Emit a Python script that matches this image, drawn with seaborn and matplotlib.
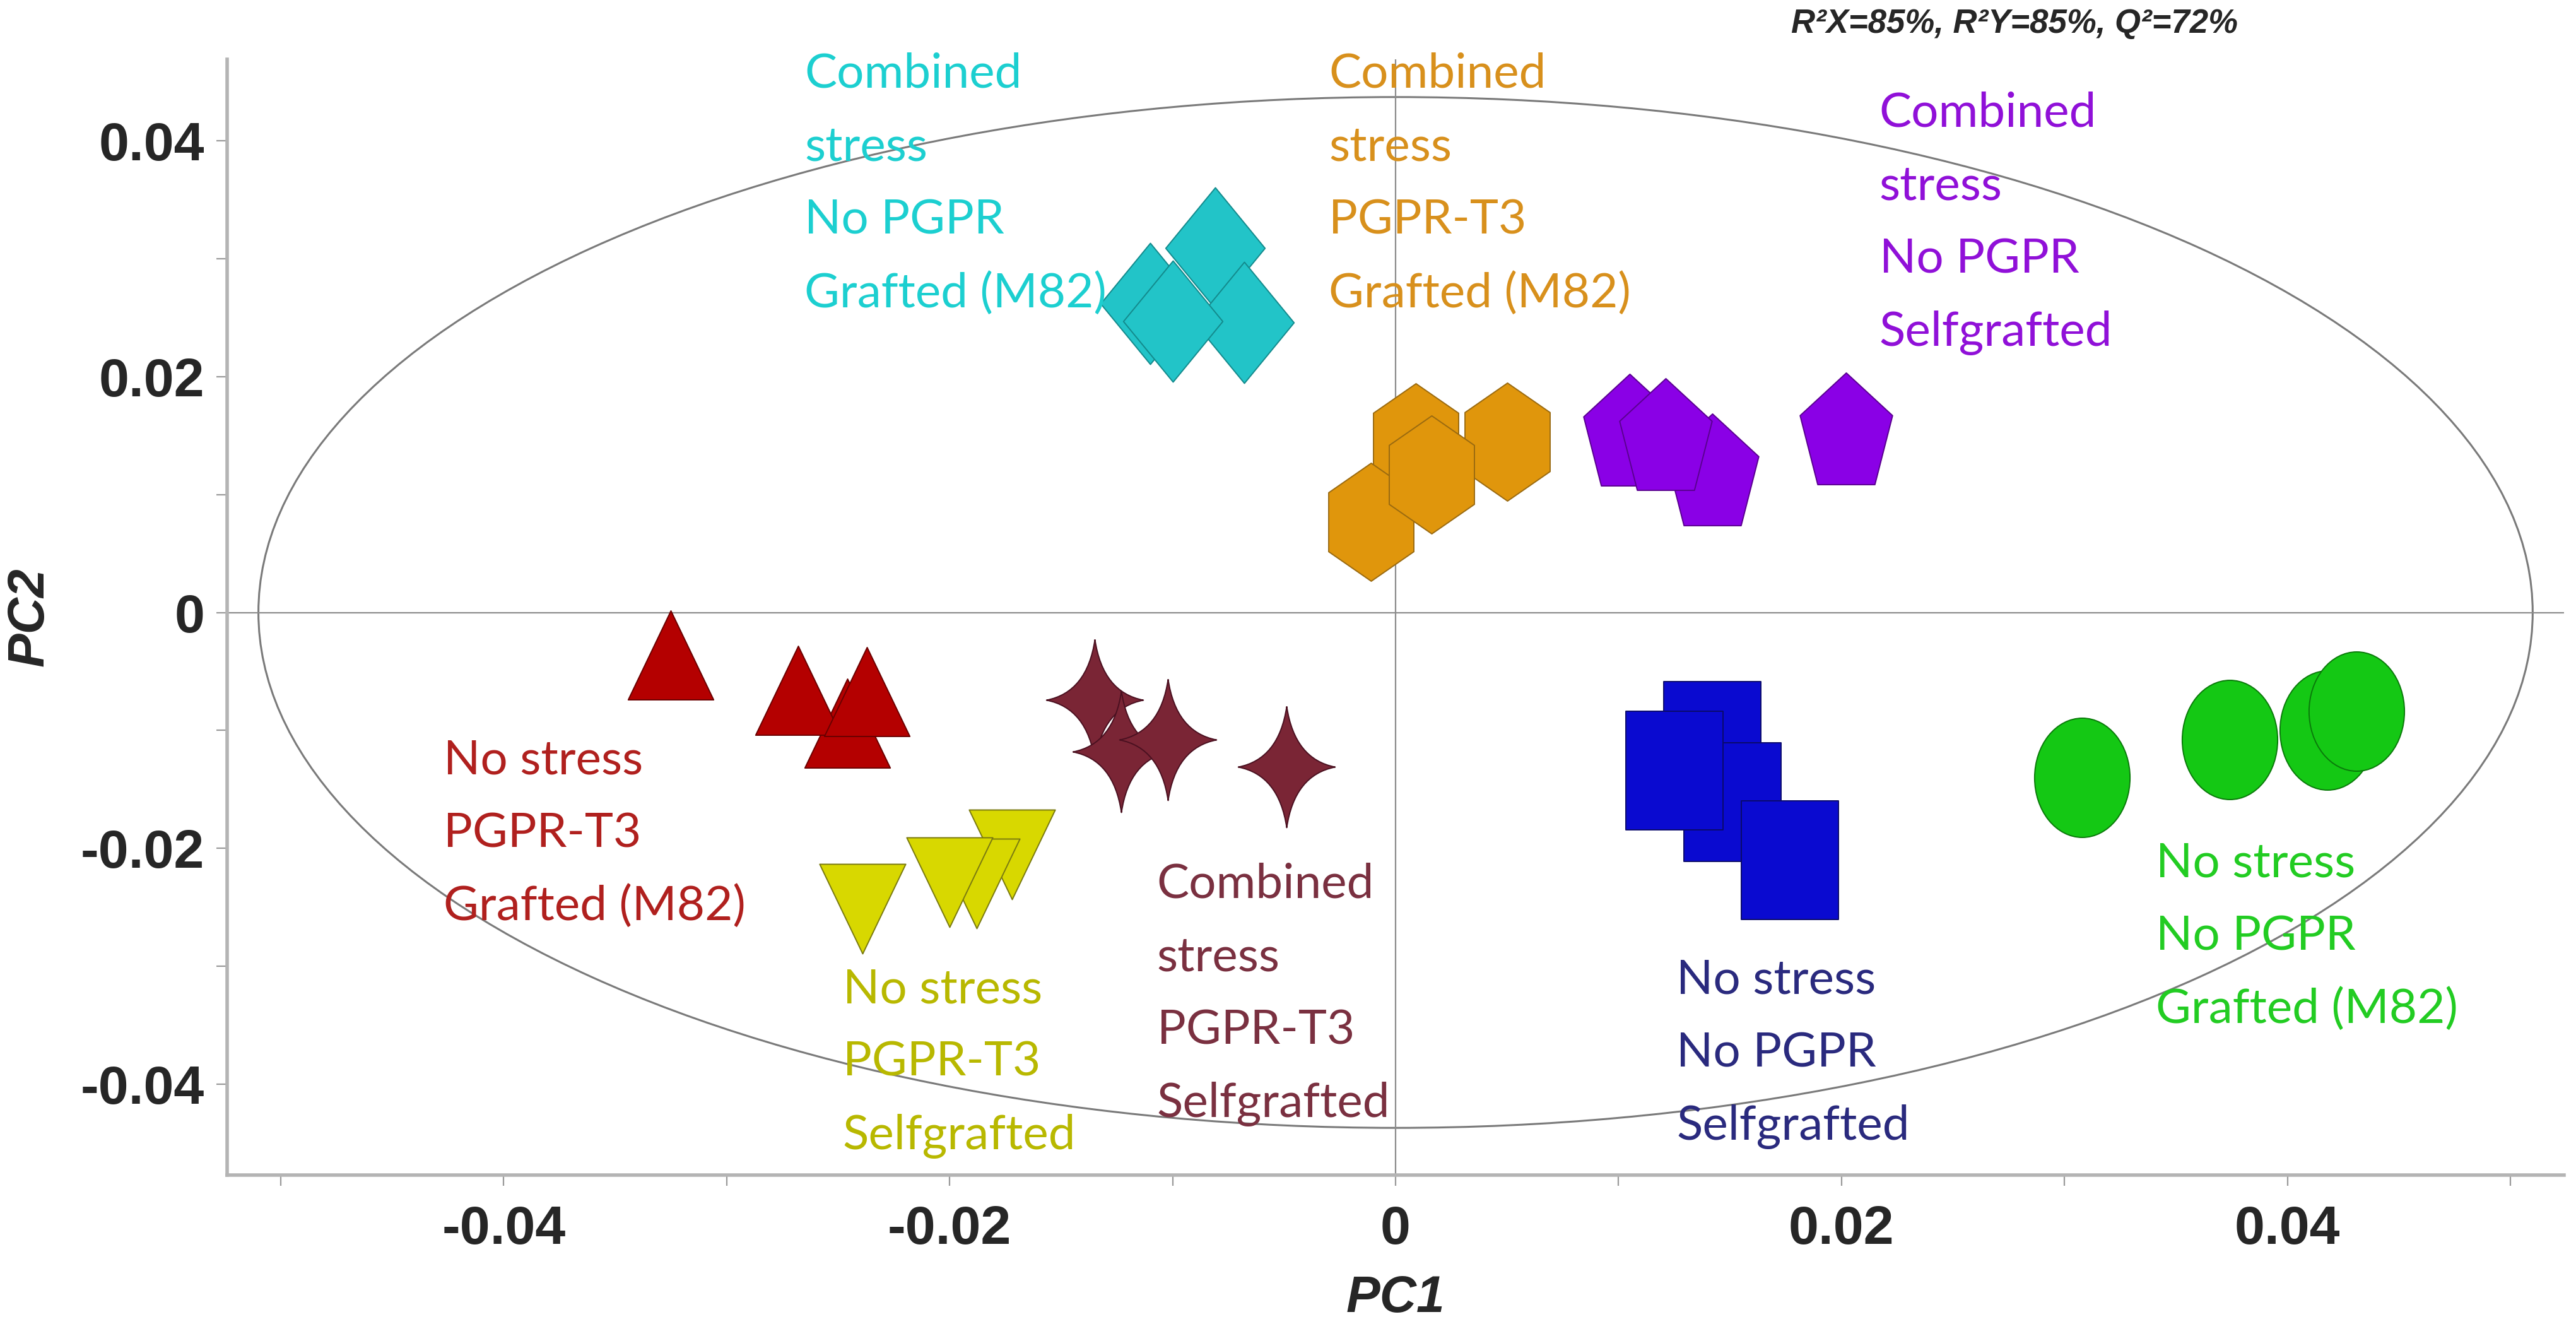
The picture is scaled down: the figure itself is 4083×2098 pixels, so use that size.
import numpy as np
import pandas as pd
import matplotlib
matplotlib.use("Agg")
import matplotlib.pyplot as plt
import seaborn as sns
from matplotlib.path import Path
from matplotlib.patches import Ellipse
from matplotlib.ticker import MultipleLocator, FuncFormatter

# scores (PC1, PC2), one list per group
cyan_x = [-0.0081, -0.0110, -0.0068, -0.0100]
cyan_y = [0.0309, 0.0262, 0.0246, 0.0247]
orange_x = [0.0009, 0.0050, -0.0011, 0.0016]
orange_y = [0.0144, 0.0145, 0.0077, 0.0117]
purple_x = [0.0142, 0.0105, 0.0121, 0.0202]
purple_y = [0.0121, 0.0155, 0.0151, 0.0156]
red_x = [-0.0246, -0.0325, -0.0268, -0.0237]
red_y = [-0.0094, -0.0036, -0.0066, -0.0067]
star_x = [-0.0135, -0.0123, -0.0102, -0.0049]
star_y = [-0.0074, -0.0118, -0.0108, -0.0131]
yellow_x = [-0.0172, -0.0188, -0.0200, -0.0239]
yellow_y = [-0.0205, -0.0230, -0.0229, -0.0251]
blue_x = [0.0142, 0.0151, 0.0125, 0.0177]
blue_y = [-0.0109, -0.0161, -0.0134, -0.0210]
green_x = [0.0308, 0.0374, 0.0418, 0.0431]
green_y = [-0.0140, -0.0108, -0.0100, -0.0084]

groups = ["cyan", "orange", "purple", "red", "star", "yellow", "blue", "green"]
labels = {
    "cyan": ["Combined", "stress", "No PGPR", "Grafted (M82)"],
    "orange": ["Combined", "stress", "PGPR-T3", "Grafted (M82)"],
    "purple": ["Combined", "stress", "No PGPR", "Selfgrafted"],
    "red": ["No stress", "PGPR-T3", "Grafted (M82)"],
    "star": ["Combined", "stress", "PGPR-T3", "Selfgrafted"],
    "yellow": ["No stress", "PGPR-T3", "Selfgrafted"],
    "blue": ["No stress", "No PGPR", "Selfgrafted"],
    "green": ["No stress", "No PGPR", "Grafted (M82)"],
}
model_stats = "R²X=85%, R²Y=85%, Q²=72%"

xs = {"cyan": cyan_x, "orange": orange_x, "purple": purple_x, "red": red_x,
      "star": star_x, "yellow": yellow_x, "blue": blue_x, "green": green_x}
ys = {"cyan": cyan_y, "orange": orange_y, "purple": purple_y, "red": red_y,
      "star": star_y, "yellow": yellow_y, "blue": blue_y, "green": green_y}

df = pd.concat([pd.DataFrame({"PC1": xs[g], "PC2": ys[g], "group": g}) for g in groups],
               ignore_index=True)

# --- styling ---
fill = {"cyan": "#22C4C8", "orange": "#E0960C", "purple": "#8A00E6", "red": "#B40000",
        "star": "#7A2535", "yellow": "#D8D800", "blue": "#0A0AD0", "green": "#14C814"}
edge = {"cyan": "#138A8C", "orange": "#9A6A10", "purple": "#5A0090", "red": "#6A0000",
        "star": "#4A1020", "yellow": "#7A7A10", "blue": "#0A0A6A", "green": "#0A7A0A"}
text_col = {"cyan": "#1CCFD0", "orange": "#D8901C", "purple": "#9010D8", "red": "#B0201E",
            "star": "#7A3040", "yellow": "#B8B800", "blue": "#2A2A7E", "green": "#22CC22"}
# label anchor: left edge, first baseline; line step in data units
label_pos = {"cyan": (-0.0265, 0.0445), "orange": (-0.0030, 0.0445),
             "purple": (0.0217, 0.0412), "red": (-0.0427, -0.0137),
             "yellow": (-0.0248, -0.0331), "star": (-0.0107, -0.0242),
             "blue": (0.0126, -0.0323), "green": (0.0341, -0.0224)}
line_step = 0.0062


def shape(verts):
    v = np.asarray(verts, float)
    v = v - (v.min(0) + v.max(0)) / 2
    codes = [Path.MOVETO] + [Path.LINETO] * (len(v) - 1) + [Path.CLOSEPOLY]
    return Path(np.vstack([v, v[:1]]), codes)


def stretched(n, ry):
    a = np.pi / 2 + np.arange(n) * 2 * np.pi / n
    return shape(np.c_[np.cos(a), ry * np.sin(a)])


circ = Path.unit_circle()
markers = {
    "cyan": shape([(0, 1), (0.82, 0), (0, -1), (-0.82, 0)]),
    "orange": stretched(6, 1.2),
    "purple": stretched(5, 1.27),
    "red": shape([(0, 1), (0.96, -1), (-0.96, -1)]),
    "yellow": shape([(0, -1), (0.96, 1), (-0.96, 1)]),
    "star": Path([(0, 1), (0.13, 0.13), (0.8, 0), (0.13, -0.13), (0, -1),
                  (-0.13, -0.13), (-0.8, 0), (-0.13, 0.13), (0, 1)],
                 [Path.MOVETO] + [Path.CURVE3] * 8),
    "blue": shape([(-0.41, -0.5), (0.41, -0.5), (0.41, 0.5), (-0.41, 0.5)]),
    "green": Path(circ.vertices * [1, 1.25], circ.codes),
}
height_px = {"cyan": 192, "orange": 187, "purple": 177, "red": 141, "star": 192,
             "yellow": 142, "blue": 188, "green": 189}

sns.set_theme(style="white")
plt.rcParams["font.family"] = ["Liberation Sans", "DejaVu Sans"]

fig = plt.figure(figsize=(40.83, 20.98), dpi=100)
ax = fig.add_axes([0.0882, 0.1125, 0.9071, 0.8427])

ax.add_patch(Ellipse((0, 0), 2 * 0.0510, 2 * 0.0437, fill=False, ec="#7a7a7a", lw=2.2, zorder=1))
ax.axhline(0, color="#8c8c8c", lw=1.6, zorder=1)
ax.axvline(0, color="#8c8c8c", lw=1.6, zorder=1)

for g in groups:
    sub = df[df["group"] == g]
    sns.scatterplot(data=sub, x="PC1", y="PC2", ax=ax, marker=markers[g],
                    s=(height_px[g] * 0.72) ** 2, color=fill[g], edgecolor=edge[g],
                    linewidth=1.4, zorder=3, legend=False)
    lx, ly = label_pos[g]
    for i, line in enumerate(labels[g]):
        ax.text(lx, ly - i * line_step, line, color=text_col[g], fontsize=55,
                family=["Lato", "DejaVu Sans"], ha="left", va="baseline",
                clip_on=False, zorder=4)

ax.set_xlim(-0.0524, 0.0524)
ax.set_ylim(-0.0477, 0.0469)
ax.xaxis.set_major_locator(MultipleLocator(0.01))
ax.yaxis.set_major_locator(MultipleLocator(0.01))


def fmt(v, pos):
    r = int(round(v * 100))
    if r % 2:
        return ""
    return "0" if r == 0 else f"{v:.2f}"


ax.xaxis.set_major_formatter(FuncFormatter(fmt))
ax.yaxis.set_major_formatter(FuncFormatter(fmt))
ax.tick_params(axis="both", which="major", direction="out", length=12, width=1.6,
               color="#9a9a9a", labelsize=62, bottom=True, left=True)
ax.tick_params(axis="x", pad=22)
ax.tick_params(axis="y", pad=14)
for lab in ax.get_xticklabels() + ax.get_yticklabels():
    lab.set_fontweight("bold")

for side in ["top", "right"]:
    ax.spines[side].set_visible(False)
for side in ["left", "bottom"]:
    ax.spines[side].set_color("#b4b4b4")
    ax.spines[side].set_linewidth(4)

ax.set_xlabel("PC1", fontsize=58, fontweight="bold", fontstyle="italic", labelpad=22)
ax.set_ylabel("PC2", fontsize=58, fontweight="bold", fontstyle="italic", labelpad=30)

fig.text(3193 / 4083, 1 - 38 / 2098, model_stats, fontsize=38, fontweight="bold",
         fontstyle="italic", ha="center", va="center")

fig.savefig("out.png", dpi=100)
